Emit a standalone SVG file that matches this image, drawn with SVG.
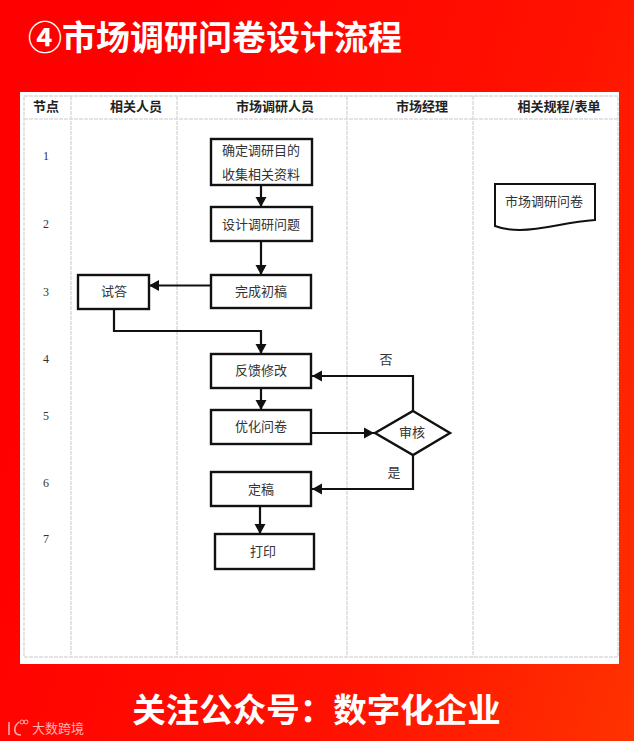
<svg xmlns="http://www.w3.org/2000/svg" width="634" height="741" viewBox="0 0 634 741">
<style>
.f{font-family:"Noto Sans CJK SC","Liberation Sans",sans-serif}
.b{fill:#fff;stroke:#111;stroke-width:2.4}
.t{font-size:13px;fill:#333;text-anchor:middle}
.h{font-size:13px;font-weight:700;fill:#222;text-anchor:middle;font-family:"Noto Sans CJK SC",sans-serif}
.n{font-size:12px;fill:#333;text-anchor:middle;font-family:"Liberation Serif",serif}
.g{stroke:#dcdcdc;stroke-width:1.5;fill:none;stroke-dasharray:4 1}
.c{stroke:#111;stroke-width:2.2;fill:none;marker-end:url(#a)}
</style>
<defs>
<linearGradient id="bg" x1="0" y1="0.6" x2="1" y2="1"><stop offset="0" stop-color="#ff0000"/><stop offset="0.6" stop-color="#ff1200"/><stop offset="1" stop-color="#ff3300"/></linearGradient>
<marker id="a" markerUnits="userSpaceOnUse" markerWidth="11" markerHeight="12" refX="10" refY="6" orient="auto"><path d="M0 0.500L10 6L0 11.500Z" fill="#111"/></marker>
</defs>
<rect width="634" height="741" fill="url(#bg)"/>
<text class="f" x="28" y="50" font-size="34" font-weight="700" fill="#fff">④市场调研问卷设计流程</text>
<rect x="20" y="92" width="599" height="572" fill="#fff"/>
<g id="grid">
<rect class="g" x="24" y="96" width="594" height="561"/>
<path class="g" d="M24 119H618M71 96V657M177 96V657M347 96V657M473 96V657"/>
</g>
<g id="labels">
<text class="h" x="46" y="111">节点</text>
<text class="h" x="136" y="111">相关人员</text>
<text class="h" x="275" y="111">市场调研人员</text>
<text class="h" x="422" y="111">市场经理</text>
<text class="h" x="559" y="111">相关规程/表单</text>
<text class="n" x="46" y="160">1</text>
<text class="n" x="46" y="228">2</text>
<text class="n" x="46" y="296">3</text>
<text class="n" x="46" y="363">4</text>
<text class="n" x="46" y="420">5</text>
<text class="n" x="46" y="487">6</text>
<text class="n" x="46" y="543">7</text>
<text class="f t" x="386" y="364">否</text>
<text class="f t" x="394" y="477">是</text>
</g>
<g id="connectors">
<path class="c" d="M261 185V207"/>
<path class="c" d="M261 241V275"/>
<path class="c" d="M211 285.500H149"/>
<path class="c" d="M114 309V331H261V354"/>
<path class="c" d="M261 388V410"/>
<path class="c" d="M311 433H374"/>
<path class="c" d="M413 411V376H312"/>
<path class="c" d="M413 455V489H312"/>
<path class="c" d="M260 506V534"/>
</g>
<g id="n1"><rect class="b" x="211" y="139" width="101" height="46"/><text class="f t" x="261" y="155">确定调研目的</text><text class="f t" x="261" y="179">收集相关资料</text></g>
<g id="n2"><rect class="b" x="211" y="207" width="101" height="34"/><text class="f t" x="261" y="229">设计调研问题</text></g>
<g id="n3"><rect class="b" x="211" y="275" width="100" height="33"/><text class="f t" x="261" y="296">完成初稿</text></g>
<g id="n4"><rect class="b" x="78" y="275" width="71" height="34"/><text class="f t" x="114" y="296">试答</text></g>
<g id="n5"><rect class="b" x="211" y="354" width="100" height="34"/><text class="f t" x="261" y="375">反馈修改</text></g>
<g id="n6"><rect class="b" x="211" y="410" width="100" height="34"/><text class="f t" x="261" y="431">优化问卷</text></g>
<g id="n7"><path class="b" d="M413 411L450 433L413 455L375 433Z"/><text class="f t" x="412" y="437">审核</text></g>
<g id="n8"><rect class="b" x="211" y="472" width="100" height="34"/><text class="f t" x="261" y="494">定稿</text></g>
<g id="n9"><rect class="b" x="215" y="534" width="99" height="35"/><text class="f t" x="263" y="556">打印</text></g>
<g id="n10"><path d="M495 184H595V220C565 222 545 230 520 230C508 230 500 228 495 226Z" fill="#fff" stroke="#111" stroke-width="2"/><text class="f t" x="544" y="206">市场调研问卷</text></g>
<text class="f" x="316.500" y="722" font-size="33.500" font-weight="700" fill="#fff" text-anchor="middle">关注公众号：数字化企业</text>
<path id="logo" d="M9 722V735M19 722C13 727 13 735 21 735" fill="none" stroke="#fff" stroke-opacity="0.65" stroke-width="1.600"/>
<circle cx="22" cy="722" r="2" fill="none" stroke="#fff" stroke-opacity="0.65"/>
<circle cx="26" cy="722" r="2" fill="none" stroke="#fff" stroke-opacity="0.65"/>
<text class="f" x="32" y="733" font-size="13" fill="#fff" fill-opacity="0.7">大数跨境</text>
</svg>
